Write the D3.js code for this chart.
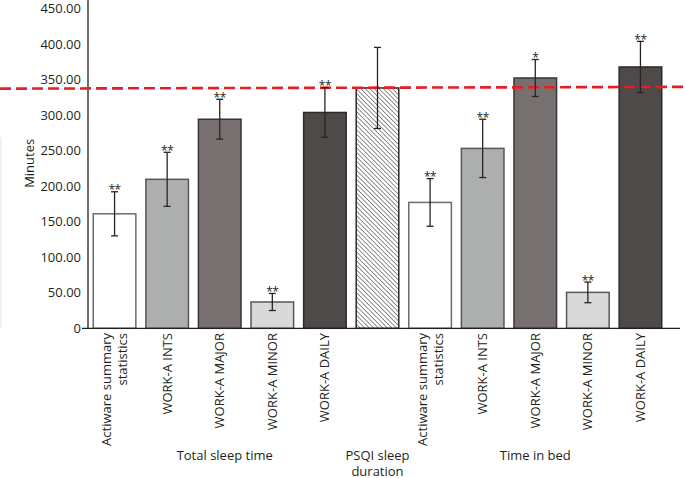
<!DOCTYPE html>
<html><head><meta charset="utf-8">
<script src="https://cdn.jsdelivr.net/npm/d3@7"></script>
<style>
body{margin:0;background:#fff;}
text{font-family:"Open Sans","Noto Sans",sans-serif;fill:#231f20;}
</style></head>
<body><svg id="c" width="685" height="478"></svg>
<script>
const categories = ["Actiware summary statistics","WORK-A INTS","WORK-A MAJOR","WORK-A MINOR","WORK-A DAILY",
  "PSQI","Actiware summary statistics ","WORK-A INTS ","WORK-A MAJOR ","WORK-A MINOR ","WORK-A DAILY "];
const tickLabels = [["Actiware summary","statistics"],["WORK-A INTS"],["WORK-A MAJOR"],["WORK-A MINOR"],["WORK-A DAILY"],
  [],["Actiware summary","statistics"],["WORK-A INTS"],["WORK-A MAJOR"],["WORK-A MINOR"],["WORK-A DAILY"]];
const means = [161, 209.5, 294, 37, 303.5, 338, 177, 253, 352, 50.5, 367.5];
const errors = [31, 38, 28, 12, 35, 57, 33.5, 41, 26, 14.5, 36];
const stars = ["**","**","**","**","**","","**","**","*","**","**"];
const fills = ["#ffffff","#adaeae","#767170","#d9d9d9","#4e4a49","hatch","#ffffff","#adaeae","#767170","#d9d9d9","#4e4a49"];
const strokes = ["#6e6a69","#5a5655","#3a3534","#5a5655","#2e2a29","#2e2a29","#6e6a69","#5a5655","#3a3534","#5a5655","#2e2a29"];
const yTicks = [0,50,100,150,200,250,300,350,400,450];
const groups = [{label:["Total sleep time"], from:0, to:4, dx:5},
                {label:["PSQI sleep","duration"], from:5, to:5, dx:0},
                {label:["Time in bed"], from:6, to:10, dx:0}];
const refLine = [337, 339.5];

const svg = d3.select("#c");
const x = d3.scaleBand().domain(categories).range([88, 667]).paddingInner(0.19).paddingOuter(0.1);
const y = d3.scaleLinear().domain([0,450]).range([328.3, 8.3]);

const defs = svg.append("defs");
const pat = defs.append("pattern").attr("id","hatch").attr("patternUnits","userSpaceOnUse")
  .attr("width",3.2).attr("height",3.2).attr("patternTransform","rotate(-45)");
pat.append("rect").attr("width",3.2).attr("height",3.2).attr("fill","#fff");
pat.append("line").attr("x1",0).attr("y1",0).attr("x2",0).attr("y2",3.2).attr("stroke","#5a5655").attr("stroke-width",1.3);

// faint edge artifact
svg.append("line").attr("x1",1).attr("x2",1).attr("y1",137).attr("y2",328).attr("stroke","#ececec").attr("stroke-width",1.5);

// y axis
const yAxis = d3.axisLeft(y).tickValues(yTicks).tickSize(0).tickPadding(7)
  .tickFormat(d => d===0 ? "0" : d3.format(".2f")(d));
const ga = svg.append("g").attr("transform","translate(88,0)").call(yAxis);
ga.select(".domain").remove();
ga.selectAll("text").style("font-size","13px").attr("fill","#231f20");
svg.append("line").attr("x1",88).attr("x2",88).attr("y1",0).attr("y2",y(0)).attr("stroke","#231f20").attr("stroke-width",1.3);

svg.append("text").attr("transform",`translate(34,${y(232)}) rotate(-90)`).attr("text-anchor","middle")
  .style("font-size","13px").text("Minutes");

// bars
svg.selectAll("rect.bar").data(categories).join("rect").attr("class","bar")
  .attr("x", d=>x(d)).attr("width", x.bandwidth())
  .attr("y", (d,i)=>y(means[i])).attr("height",(d,i)=>y(0)-y(means[i]))
  .attr("fill",(d,i)=> fills[i]==="hatch" ? "url(#hatch)" : fills[i])
  .attr("stroke",(d,i)=>strokes[i]).attr("stroke-width",1.5);

// x axis
svg.append("line").attr("x1",82).attr("x2",680).attr("y1",y(0)).attr("y2",y(0)).attr("stroke","#231f20").attr("stroke-width",1.3);

// reference line
svg.append("line").attr("x1",0).attr("x2",685).attr("y1",y(refLine[0])).attr("y2",y(refLine[1]))
  .attr("stroke","#e31e24").attr("stroke-width",2.6).attr("stroke-dasharray","11,5");

// error bars
const eb = svg.append("g").attr("stroke","#2b2322").attr("stroke-width",1.3);
categories.forEach((c,i)=>{
  const cx = x(c)+x.bandwidth()/2;
  const t = y(means[i]+errors[i]), b = y(means[i]-errors[i]);
  eb.append("line").attr("x1",cx).attr("x2",cx).attr("y1",t).attr("y2",b);
  eb.append("line").attr("x1",cx-3.5).attr("x2",cx+3.5).attr("y1",t).attr("y2",t);
  eb.append("line").attr("x1",cx-3.5).attr("x2",cx+3.5).attr("y1",b).attr("y2",b);
  if (stars[i]) svg.append("text").attr("x",cx).attr("y",t+2.5).attr("text-anchor","middle")
    .style("font-size","12px").attr("letter-spacing","-0.5px").text(stars[i]);
});

// category labels
categories.forEach((c,i)=>{
  const lines = tickLabels[i];
  const cx = x(c)+x.bandwidth()/2;
  lines.forEach((ln,j)=>{
    const off = (j - (lines.length-1)/2)*16;
    svg.append("text").attr("transform",`translate(${cx+off+4.5},333) rotate(-90)`)
      .attr("text-anchor","end").style("font-size","13px").text(ln);
  });
});

// group labels
groups.forEach(g=>{
  const cx = (x(categories[g.from]) + x(categories[g.to]) + x.bandwidth())/2 + g.dx;
  const t = svg.append("text").attr("x",cx).attr("y",460).attr("text-anchor","middle").style("font-size","13px");
  g.label.forEach((ln,j)=>{
    t.append("tspan").attr("x",cx).attr("dy", j===0 ? 0 : 15.5).text(ln);
  });
});
</script></body></html>
